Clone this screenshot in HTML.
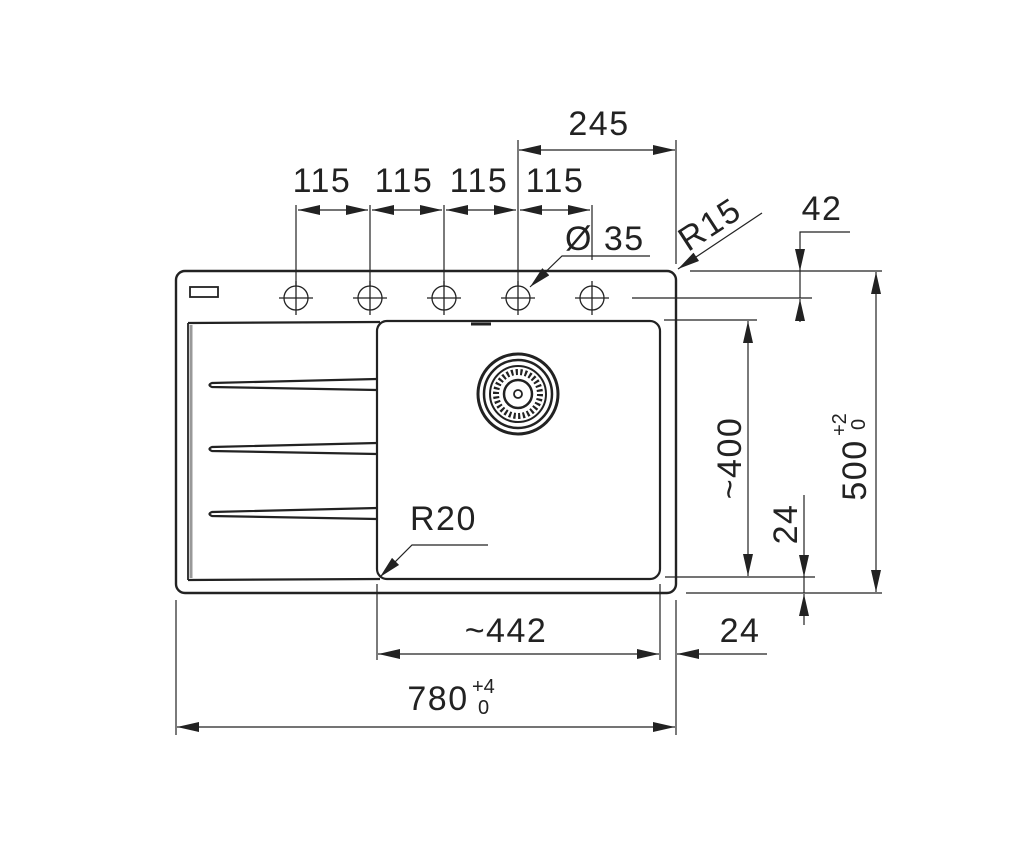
<!DOCTYPE html>
<html><head><meta charset="utf-8"><style>
html,body{margin:0;padding:0;background:#fff;}
svg{display:block;}
text{font-family:"Liberation Sans",sans-serif;fill:#222;}
</style></head><body>
<svg width="1024" height="847" viewBox="0 0 1024 847" xmlns="http://www.w3.org/2000/svg">
<defs>
<marker id="a" markerUnits="userSpaceOnUse" markerWidth="24" markerHeight="12" refX="22" refY="5" orient="auto-start-reverse">
<path d="M0,0 L22,5 L0,10 z" fill="#222"/>
</marker>
</defs>
<g stroke="#222" fill="none">
<rect x="176" y="271" width="500" height="322" rx="9" stroke-width="2.4"/>
<rect x="190" y="287" width="28" height="10" stroke-width="1.8"/>
<line x1="188" y1="323" x2="380" y2="322" stroke-width="2.2"/>
<line x1="188" y1="580" x2="380" y2="579" stroke-width="2.2"/>
<line x1="188" y1="323" x2="188" y2="580" stroke-width="1.8"/>
<line x1="191" y1="325" x2="191" y2="578" stroke="#999" stroke-width="3"/>
<path d="M377,379 L212,383 Q207,385 212,387 L377,390" stroke-width="2.2"/>
<path d="M377,443 L212,447 Q207,449 212,451 L377,454" stroke-width="2.2"/>
<path d="M377,508 L212,512 Q207,514 212,516 L377,519" stroke-width="2.2"/>
<rect x="377" y="321" width="283" height="258" rx="10" stroke-width="2.2"/>
<path d="M471,324 L491,324" stroke-width="3"/>
<circle cx="518" cy="394" r="40" stroke-width="3"/>
<circle cx="518" cy="394" r="34" stroke-width="2.5"/>
<circle cx="518" cy="394" r="28" stroke-width="2"/>
<circle cx="518" cy="394" r="22" stroke-width="6" stroke-dasharray="2.2 2.4"/>
<circle cx="518" cy="394" r="14" stroke-width="2.5"/>
<circle cx="518" cy="394" r="4" stroke-width="1.8"/>
<g stroke-width="1.3">
<circle cx="296" cy="298" r="12"/><line x1="279" y1="298" x2="313" y2="298"/><line x1="296" y1="281" x2="296" y2="315"/>
<circle cx="370" cy="298" r="12"/><line x1="353" y1="298" x2="387" y2="298"/><line x1="370" y1="281" x2="370" y2="315"/>
<circle cx="444" cy="298" r="12"/><line x1="427" y1="298" x2="461" y2="298"/><line x1="444" y1="281" x2="444" y2="315"/>
<circle cx="518" cy="298" r="12"/><line x1="501" y1="298" x2="535" y2="298"/><line x1="518" y1="281" x2="518" y2="315"/>
<circle cx="592" cy="298" r="12"/><line x1="575" y1="298" x2="609" y2="298"/><line x1="592" y1="281" x2="592" y2="315"/>
</g>
<g stroke-width="1.2">
<line x1="296" y1="205" x2="296" y2="286"/>
<line x1="370" y1="205" x2="370" y2="286"/>
<line x1="444" y1="205" x2="444" y2="286"/>
<line x1="518" y1="140" x2="518" y2="286"/>
<line x1="592" y1="205" x2="592" y2="260"/>
<line x1="676" y1="140" x2="676" y2="264"/>
<line x1="298" y1="210" x2="368" y2="210" marker-start="url(#a)" marker-end="url(#a)"/>
<line x1="372" y1="210" x2="442" y2="210" marker-start="url(#a)" marker-end="url(#a)"/>
<line x1="446" y1="210" x2="516" y2="210" marker-start="url(#a)" marker-end="url(#a)"/>
<line x1="520" y1="210" x2="590" y2="210" marker-start="url(#a)" marker-end="url(#a)"/>
<line x1="519" y1="150" x2="675" y2="150" marker-start="url(#a)" marker-end="url(#a)"/>
<polyline points="650,256 562,256 530,287" marker-end="url(#a)"/>
<line x1="762" y1="213" x2="678" y2="269" marker-end="url(#a)"/>
<polyline points="488,545 412,545 380,577" marker-end="url(#a)"/>
<line x1="690" y1="271" x2="882" y2="271"/>
<line x1="632" y1="298" x2="812" y2="298"/>
<line x1="664" y1="320" x2="757" y2="320"/>
<line x1="665" y1="577" x2="815" y2="577"/>
<line x1="686" y1="593" x2="882" y2="593"/>
<polyline points="850,232 800,232 800,271" marker-end="url(#a)"/>
<line x1="800" y1="271" x2="800" y2="298"/>
<line x1="800" y1="322" x2="800" y2="299" marker-end="url(#a)"/>
<line x1="748" y1="321" x2="748" y2="576" marker-start="url(#a)" marker-end="url(#a)"/>
<line x1="804" y1="495" x2="804" y2="577" marker-end="url(#a)"/>
<line x1="804" y1="577" x2="804" y2="593"/>
<line x1="804" y1="625" x2="804" y2="594" marker-end="url(#a)"/>
<line x1="876" y1="272" x2="876" y2="592" marker-start="url(#a)" marker-end="url(#a)"/>
<line x1="176" y1="600" x2="176" y2="735"/>
<line x1="676" y1="600" x2="676" y2="735"/>
<line x1="377" y1="584" x2="377" y2="660"/>
<line x1="660" y1="584" x2="660" y2="660"/>
<line x1="378" y1="654" x2="659" y2="654" marker-start="url(#a)" marker-end="url(#a)"/>
<line x1="767" y1="654" x2="677" y2="654" marker-end="url(#a)"/>
<line x1="177" y1="727" x2="675" y2="727" marker-start="url(#a)" marker-end="url(#a)"/>
</g>
</g>
<g font-size="34" letter-spacing="1.5">
<text x="322" y="192" text-anchor="middle">115</text>
<text x="404" y="192" text-anchor="middle">115</text>
<text x="479" y="192" text-anchor="middle">115</text>
<text x="555" y="192" text-anchor="middle">115</text>
<text x="599" y="135" text-anchor="middle">245</text>
<text x="565" y="250">Ø 35</text>
<text x="822" y="220" text-anchor="middle">42</text>
<text x="410" y="530">R20</text>
<text transform="translate(716,234) rotate(-33)" text-anchor="middle">R15</text>
<text x="506" y="642" text-anchor="middle">~442</text>
<text x="740" y="642" text-anchor="middle">24</text>
<text x="438" y="710" text-anchor="middle">780</text>
<text transform="translate(741,458) rotate(-90)" text-anchor="middle">~400</text>
<text transform="translate(797,524) rotate(-90)" text-anchor="middle">24</text>
<text transform="translate(866,470) rotate(-90)" text-anchor="middle">500</text>
</g>
<g font-size="20">
<text x="472" y="693">+4</text>
<text x="478" y="714">0</text>
<text transform="translate(846,436) rotate(-90)">+2</text>
<text transform="translate(865,430) rotate(-90)">0</text>
</g>
</svg>
</body></html>
